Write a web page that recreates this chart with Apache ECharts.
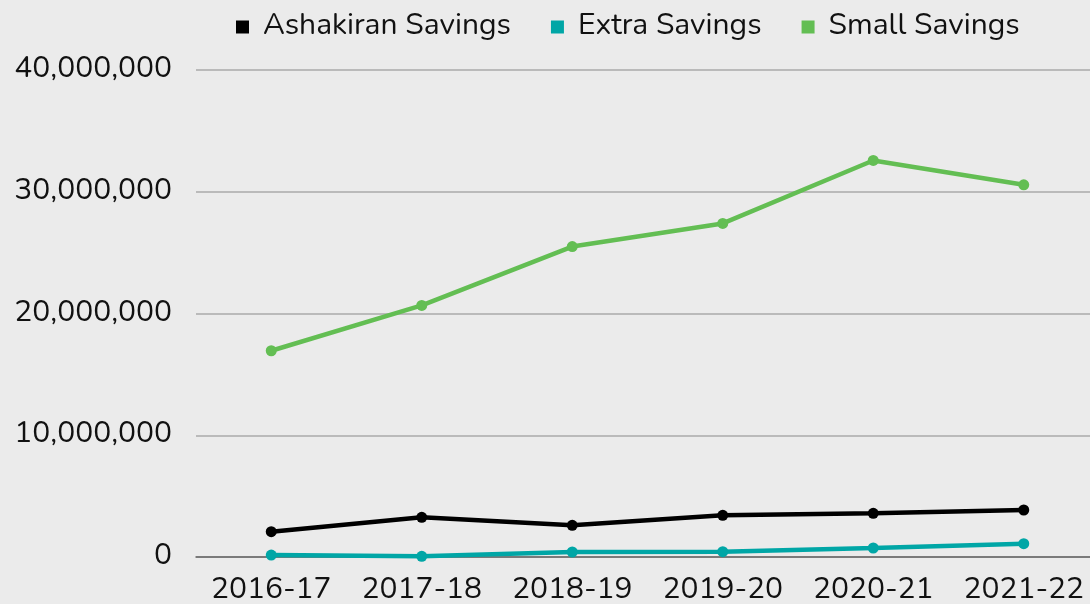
<!DOCTYPE html>
<html>
<head>
<meta charset="utf-8">
<script src="https://cdn.jsdelivr.net/npm/echarts@6/dist/echarts.min.js"></script>
<style>
  html, body { margin: 0; padding: 0; background: #ebebeb; }
  #chart { width: 1090px; height: 604px; }
</style>
</head>
<body>
<div id="chart"></div>
<script>
// 年度
var years = ['2016-17', '2017-18', '2018-19', '2019-20', '2020-21', '2021-22'];
// 各储蓄数据
var ashakiranSavings = [2080000, 3260000, 2600000, 3420000, 3590000, 3860000];
var extraSavings = [160000, 60000, 410000, 440000, 740000, 1090000];
var smallSavings = [16940000, 20660000, 25500000, 27400000, 32570000, 30570000];

var fontName = 'Nunito, Lato, "Open Sans", sans-serif';

var chart = echarts.init(document.getElementById('chart'));

function makeSeries(name, data, color) {
	return {
		name: name,
		type: 'line',
		data: data,
		symbol: 'circle',
		symbolSize: 11,
		lineStyle: { color: color, width: 4.5 },
		itemStyle: { color: color },
		animation: false
	};
}

var options = {
	backgroundColor: '#ebebeb',
	textStyle: { fontFamily: fontName },
	legend: {
		top: 12,
		left: 236,
		padding: 0,
		itemWidth: 13,
		itemHeight: 13,
		itemGap: 40,
		icon: 'rect',
		textStyle: { fontSize: 30, color: '#111', fontFamily: fontName, padding: [0, 0, 0, 9] },
		data: ['Ashakiran Savings', 'Extra Savings', 'Small Savings']
	},
	grid: { left: 196, right: -9, top: 70, bottom: 47, containLabel: false, outerBoundsMode: 'none' },
	xAxis: {
		type: 'category',
		boundaryGap: true,
		data: years,
		axisLine: { lineStyle: { color: '#666', width: 1.5 } },
		axisTick: { show: false },
		axisLabel: { interval: 0, fontSize: 30, color: '#111', margin: 19, fontFamily: fontName }
	},
	yAxis: {
		type: 'value',
		min: 0,
		max: 40000000,
		interval: 10000000,
		axisLine: { show: false },
		axisTick: { show: false },
		splitLine: { lineStyle: { color: '#aaaaaa', width: 1.5 } },
		axisLabel: {
			fontSize: 30,
			color: '#111',
			margin: 24,
			fontFamily: fontName,
			formatter: function(v) { return v.toLocaleString('en-US'); }
		}
	},
	series: [
		makeSeries('Ashakiran Savings', ashakiranSavings, '#000000'),
		makeSeries('Extra Savings', extraSavings, '#00a6a6'),
		makeSeries('Small Savings', smallSavings, '#63be53')
	]
};
chart.setOption(options);
</script>
</body>
</html>
